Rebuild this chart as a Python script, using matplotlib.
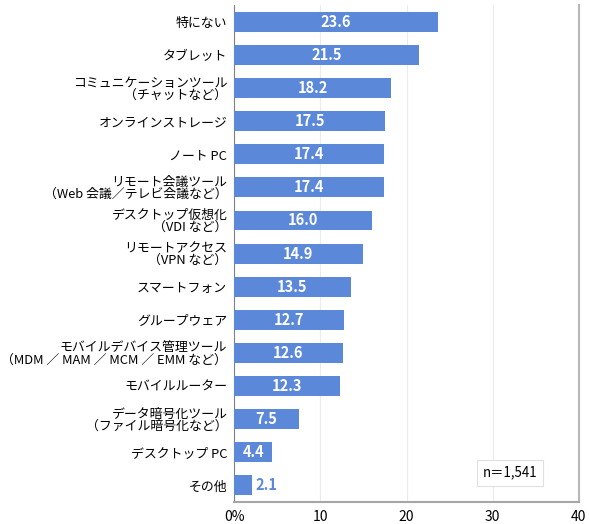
import matplotlib.pyplot as plt

plt.rcParams['font.family'] = ['Noto Sans CJK JP', 'DejaVu Sans']

# データ
categories = [
    '特にない',
    'タブレット',
    'コミュニケーションツール\n（チャットなど）',
    'オンラインストレージ',
    'ノート PC',
    'リモート会議ツール\n（Web 会議／テレビ会議など）',
    'デスクトップ仮想化\n（VDI など）',
    'リモートアクセス\n（VPN など）',
    'スマートフォン',
    'グループウェア',
    'モバイルデバイス管理ツール\n（MDM ／ MAM ／ MCM ／ EMM など）',
    'モバイルルーター',
    'データ暗号化ツール\n（ファイル暗号化など）',
    'デスクトップ PC',
    'その他',
]
values = [23.6, 21.5, 18.2, 17.5, 17.4, 17.4, 16.0, 14.9, 13.5, 12.7, 12.6, 12.3, 7.5, 4.4, 2.1]
xticks = [0, 10, 20, 30, 40]
xtick_labels = ['0%', '10', '20', '30', '40']

bar_color = '#5b88d8'

fig = plt.figure(figsize=(5.9, 5.24), dpi=100)
ax = fig.add_axes([0.397, 0.042, 0.584, 0.948])

y = list(range(len(categories)))
ax.barh(y, values, height=0.6, color=bar_color, zorder=3)
ax.set_ylim(len(categories) - 0.5, -0.5)
ax.set_xlim(0, 40)

ax.set_yticks(y)
ax.set_yticklabels(categories, fontsize=9.3, linespacing=0.9)
ax.set_xticks(xticks)
ax.set_xticklabels(xtick_labels, fontsize=10)
ax.tick_params(axis='y', length=0, pad=5)
ax.tick_params(axis='x', length=0, pad=6)

ax.grid(axis='x', color='#ececec', linewidth=0.8, zorder=0)

# 値ラベル
for i, v in enumerate(values):
    if v < 3:
        ax.text(v + 0.4, i, f'{v:.1f}', ha='left', va='center', color=bar_color,
                fontsize=10.5, fontweight='bold', zorder=4)
    else:
        ax.text(v / 2, i, f'{v:.1f}', ha='center', va='center', color='white',
                fontsize=10.5, fontweight='bold', zorder=4)

ax.spines['top'].set_visible(False)
ax.spines['left'].set_color('#808080')
ax.spines['bottom'].set_color('#a6a6a6')
ax.spines['right'].set_color('#b8b8b8')
ax.spines['bottom'].set_linewidth(1.5)
ax.spines['right'].set_linewidth(1.5)

ax.text(0.88, 0.045, 'n＝1,541', transform=ax.transAxes, ha='right', va='bottom',
        fontsize=9.6, bbox=dict(boxstyle='square,pad=0.45', facecolor='white',
                                edgecolor='#e0e0e0', linewidth=0.8), zorder=5)

fig.savefig('out.png', dpi=100)
